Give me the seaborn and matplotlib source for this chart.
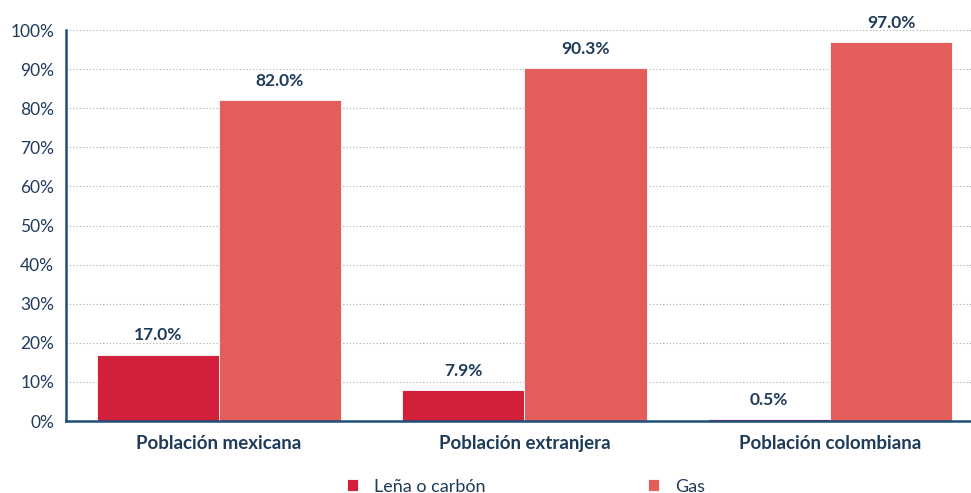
import pandas as pd
import matplotlib.pyplot as plt
import seaborn as sns
from matplotlib.ticker import FixedLocator, PercentFormatter

categories = ["Población mexicana", "Población extranjera", "Población colombiana"]
series = ["Leña o carbón", "Gas"]
lena = [17.0, 7.9, 0.5]
gas = [82.0, 90.3, 97.0]

NAVY = "#1F3B5A"
AXIS = "#1F4E79"
COLORS = ["#D21F3A", "#E35D5A"]

df = pd.DataFrame({
    "categoria": categories * 2,
    "serie": [series[0]] * 3 + [series[1]] * 3,
    "valor": lena + gas,
})

sns.set_style("white")
plt.rcParams["font.family"] = ["Lato", "DejaVu Sans"]

fig = plt.figure(figsize=(9.71, 4.93), dpi=100)
# axes runs a bit past the right edge, like the original
ax = fig.add_axes([0.068, 0.146, 0.944, 0.793])

sns.barplot(data=df, x="categoria", y="valor", hue="serie", palette=COLORS,
            saturation=1, width=0.8, ax=ax, legend=True,
            edgecolor="white", linewidth=0.6)

for cont in ax.containers:
    ax.bar_label(cont, labels=[f"{v:.1f}%" for v in cont.datavalues], padding=8,
                 fontsize=12.5, fontweight="bold", color=NAVY)

ax.set_xlim(-0.5, 2.5)
ax.set_ylim(0, 100)
ax.yaxis.set_major_locator(FixedLocator(range(0, 101, 10)))
ax.yaxis.set_major_formatter(PercentFormatter(decimals=0))
ax.grid(axis="y", linestyle=(0, (1, 2)), color="#AAAAAA", linewidth=0.8)
ax.set_axisbelow(True)

ax.xaxis.set_minor_locator(FixedLocator([-0.5, 0.5, 1.5, 2.5]))
ax.tick_params(axis="x", which="major", length=0, pad=10, labelsize=13.5, labelcolor=NAVY)
ax.tick_params(axis="x", which="minor", length=6, width=1.5, color=AXIS, direction="out")
ax.tick_params(axis="y", length=5, width=1.5, color=AXIS, labelsize=12.5, labelcolor=NAVY)
for lab in ax.get_xticklabels():
    lab.set_fontweight("bold")

for s in ["top", "right"]:
    ax.spines[s].set_visible(False)
for s in ["left", "bottom"]:
    ax.spines[s].set_color(AXIS)
    ax.spines[s].set_linewidth(1.8)

ax.set_xlabel("")
ax.set_ylabel("")

handles, labels = ax.get_legend_handles_labels()
ax.get_legend().remove()
fig.legend(handles, labels, loc="center", bbox_to_anchor=(0.542, 0.013), ncol=2,
           frameon=False, fontsize=13, handlelength=0.6, handleheight=0.6,
           handletextpad=0.9, columnspacing=9.0, labelcolor=NAVY,
           borderpad=0, borderaxespad=0)

fig.savefig("out.png", dpi=100)
